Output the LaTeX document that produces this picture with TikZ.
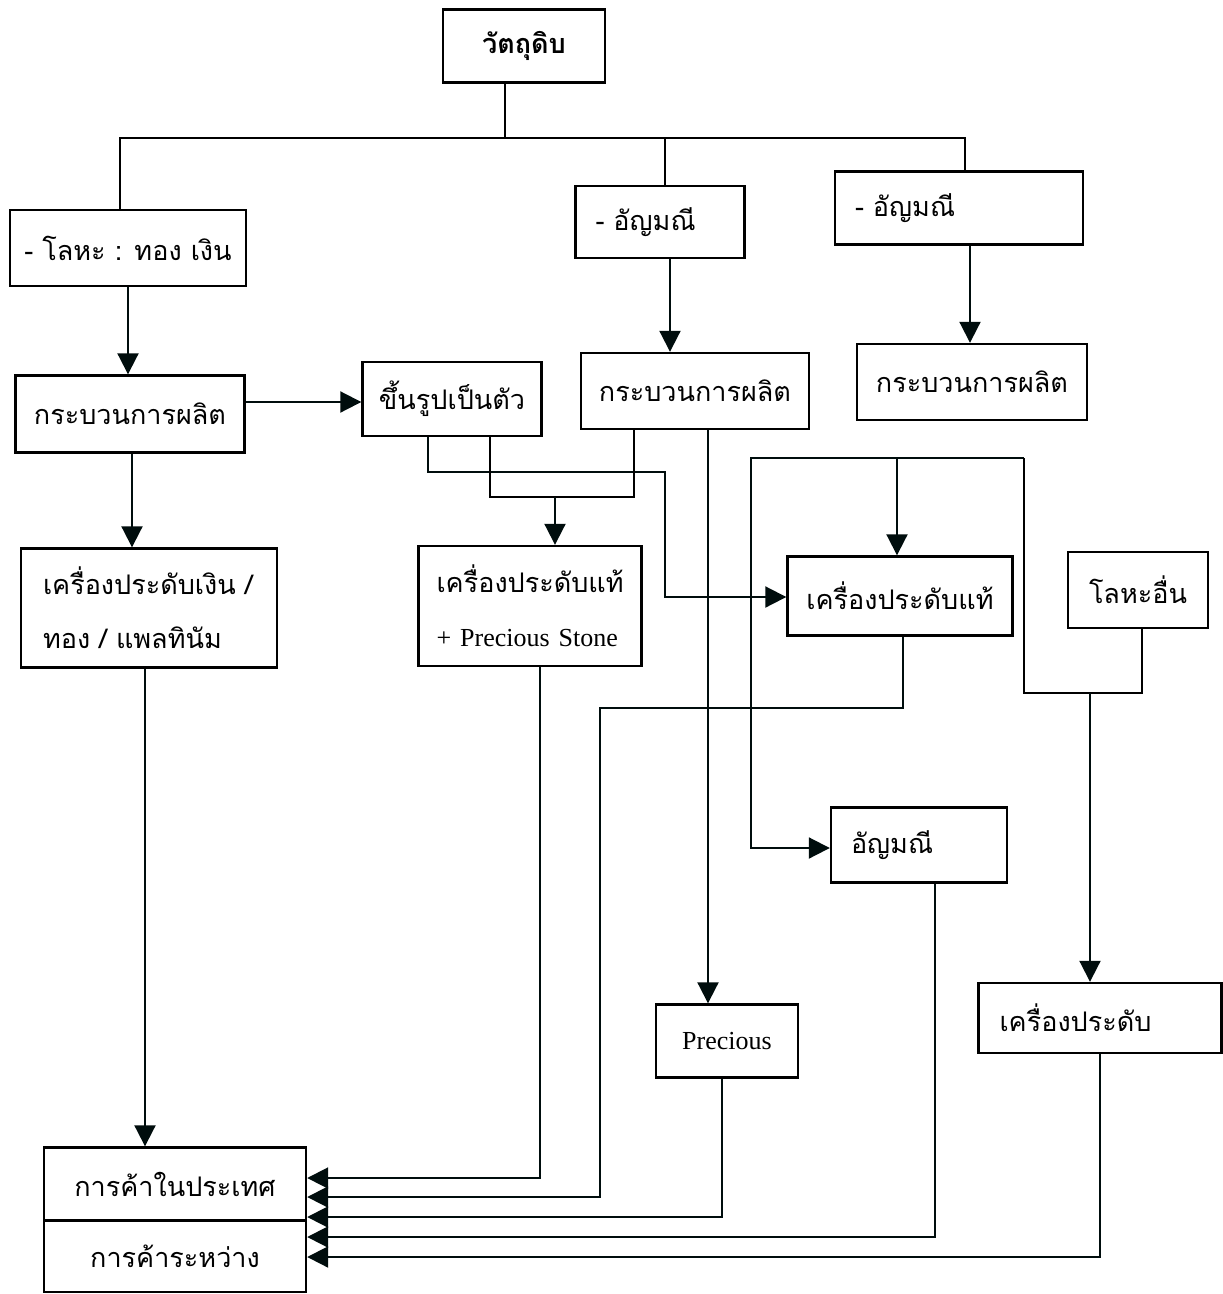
\documentclass[tikz,border=0pt]{standalone}
\usepackage{fontspec}
\setmainfont[Script=Thai]{Loma}
\newfontfamily\latinserif{Liberation Serif}
\usetikzlibrary{arrows.meta}
\newcommand{\thaisz}{\fontsize{27pt}{32pt}\selectfont}
\newcommand{\latsz}{\latinserif\fontsize{26pt}{30pt}\selectfont}
\begin{document}
\begin{tikzpicture}[x=1pt,y=-1pt,
  box/.style={draw=black, line width=2.4pt, inner xsep=10pt, inner ysep=0pt, font=\thaisz, align=center},
  ln/.style={line width=2pt, line join=miter, draw=black},
  arr/.style={ln, -{Triangle[length=21pt,width=21pt]}, color=black!90!teal}
]
\fill[white] (0,0) rectangle (1223,1294);
\useasboundingbox (0,0) rectangle (1223,1294);

% nodes
\node[box, minimum width=162pt, minimum height=73pt, font=\thaisz\bfseries] (raw) at (524,46) {วัตถุดิบ};
\node[box, minimum width=236pt, minimum height=76pt] (metal) at (128,248) {- โลหะ : ทอง เงิน};
\node[box, inner xsep=20pt, text width=129pt, align=left, minimum height=72pt] (gem1) at (660,222) {- อัญมณี};
\node[box, inner xsep=20pt, text width=208pt, align=left, minimum height=73pt] (gem2) at (959,208) {- อัญมณี};
\node[box, minimum width=229pt, minimum height=77pt] (proc1) at (130,414) {กระบวนการผลิต};
\node[box, minimum width=179pt, minimum height=74pt] (shape) at (452,399) {ขึ้นรูปเป็นตัว};
\node[box, minimum width=228pt, minimum height=76pt] (proc2) at (695,391) {กระบวนการผลิต};
\node[box, minimum width=230pt, minimum height=76pt] (proc3) at (972,382) {กระบวนการผลิต};
\node[box, inner xsep=22pt, text width=212pt, align=left, minimum height=119pt] (jewel1) at (149,608) {เครื่องประดับเงิน /\\[22pt]ทอง / แพลทินัม};
\node[box, inner xsep=18pt, text width=187pt, align=left, minimum height=120pt] (jewel2) at (530,606) {เครื่องประดับแท้\\[22pt]{\latsz + Precious Stone}};
\node[box, minimum width=225pt, minimum height=79pt] (jewel3) at (900,596) {เครื่องประดับแท้};
\node[box, minimum width=140pt, minimum height=76pt] (other) at (1138,590) {โลหะอื่น};
\node[box, inner xsep=20pt, text width=136pt, align=left, minimum height=75pt] (gem3) at (919,845) {อัญมณี};
\node[box, minimum width=142pt, minimum height=73pt, font=\latsz] (precious) at (727,1041) {Precious};
\node[box, inner xsep=21pt, text width=201pt, align=left, minimum height=70pt] (jewel4) at (1100,1018) {เครื่องประดับ};
\node[box, minimum width=262pt, minimum height=73pt] (trade1) at (175,1184) {การค้าในประเทศ};
\node[box, minimum width=262pt, minimum height=72pt] (trade2) at (175,1256) {การค้าระหว่าง};

% helper coordinates
\coordinate (b1) at (505,138);
\coordinate (bL) at (120,138);
\coordinate (bR) at (965,138);
\coordinate (bM) at (665,138);
\coordinate (c1) at (670,0);
\coordinate (c2) at (970,0);
\coordinate (r1) at (0,402);
\coordinate (c3) at (132,0);
\coordinate (p1) at (428,472);
\coordinate (p2) at (665,472);
\coordinate (p3) at (665,597);
\coordinate (q1) at (490,497);
\coordinate (q2) at (634,497);
\coordinate (q3) at (555,497);
\coordinate (s1) at (708,0);
\coordinate (t1) at (751,458);
\coordinate (t2) at (1024,458);
\coordinate (t3) at (751,848);
\coordinate (t4) at (1024,693);
\coordinate (t5) at (1142,693);
\coordinate (t6) at (897,458);
\coordinate (t7) at (1090,693);
\coordinate (u1) at (903,708);
\coordinate (u2) at (600,708);
\coordinate (u3) at (600,1197);
\coordinate (v1) at (540,1178);
\coordinate (w1) at (722,1217);
\coordinate (x1) at (935,1237);
\coordinate (y1) at (1100,1257);
\coordinate (z1) at (145,0);

% connectors
\draw[ln] (b1 |- raw.south) -- (b1);
\draw[ln] (bL |- metal.north) -- (bL) -- (bR) -- (bR |- gem2.north);
\draw[ln] (bM) -- (bM |- gem1.north);
\draw[arr] (metal.south) -- (metal.south |- proc1.north);
\draw[arr] (c1 |- gem1.south) -- (c1 |- proc2.north);
\draw[arr] (c2 |- gem2.south) -- (c2 |- proc3.north);
\draw[arr] (proc1.east |- r1) -- (shape.west |- r1);
\draw[arr] (c3 |- proc1.south) -- (c3 |- jewel1.north);
\draw[arr] (p1 |- shape.south) -- (p1) -- (p2) -- (p3) -- (jewel3.west |- p3);
\draw[ln] (q1 |- shape.south) -- (q1) -- (q2) -- (q2 |- proc2.south);
\draw[arr] (q3) -- (q3 |- jewel2.north);
\draw[arr] (s1 |- proc2.south) -- (s1 |- precious.north);
\draw[arr] (t2) -- (t1) -- (t3) -- (gem3.west |- t3);
\draw[ln] (t2) -- (t4) -- (t5) -- (t5 |- other.south);
\draw[arr] (t6) -- (t6 |- jewel3.north);
\draw[arr] (t7) -- (t7 |- jewel4.north);
\draw[arr] (z1 |- jewel1.south) -- (z1 |- trade1.north);
\draw[arr] (v1 |- jewel2.south) -- (v1) -- (trade1.east |- v1);
\draw[arr] (u1 |- jewel3.south) -- (u1) -- (u2) -- (u3) -- (trade1.east |- u3);
\draw[arr] (w1 |- precious.south) -- (w1) -- (trade1.east |- w1);
\draw[arr] (x1 |- gem3.south) -- (x1) -- (trade2.east |- x1);
\draw[arr] (y1 |- jewel4.south) -- (y1) -- (trade2.east |- y1);
\end{tikzpicture}
\end{document}
